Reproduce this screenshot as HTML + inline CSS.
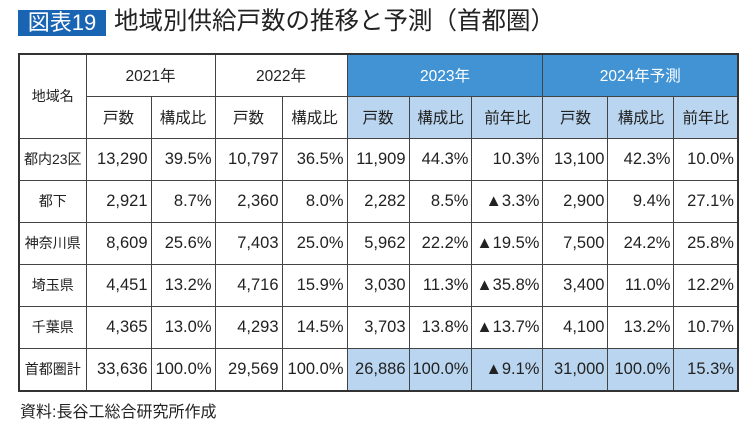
<!DOCTYPE html>
<html><head><meta charset="utf-8"><style>
body{margin:0;width:754px;height:427px;background:#fff;position:relative;overflow:hidden;font-family:"Liberation Sans","Noto Sans CJK JP",sans-serif;color:#222}
.tb{position:absolute;left:18px;top:10px;width:88px;height:26px;background:#1a64b4;color:#fff;font-size:22px;line-height:26px;text-align:center}
.tt{position:absolute;left:114px;top:7px;font-size:24.5px;line-height:30px;color:#222}
table{position:absolute;left:18px;top:53px;border-collapse:collapse;border:2px solid #333;table-layout:fixed}
td{border:1px solid #444;padding:0 3px;font-size:16.5px;text-align:right;white-space:nowrap;overflow:hidden}
td.c{text-align:center;font-size:15.5px}
.d{background:#4193d3;color:#fff}
.l{background:#b9d5ef}
.h1{height:42px}.h2{height:42px}
tr.r td{height:41px}
.nm{font-size:14px;text-align:center;padding:0}
td.nm{font-size:14px}
.f{position:absolute;left:20px;top:398px;font-size:16px}
</style></head><body>
<div class="tb">図表19</div>
<div class="tt">地域別供給戸数の推移と予測（首都圏）</div>
<table>
<colgroup><col style="width:67px"><col style="width:65px"><col style="width:64px"><col style="width:67px"><col style="width:65px"><col style="width:62px"><col style="width:62px"><col style="width:71px"><col style="width:65px"><col style="width:66px"><col style="width:64px"></colgroup>
<tr class="h1"><td class="c nm" rowspan="2" style="font-size:14px">地域名</td><td class="c" colspan="2">2021年</td><td class="c" colspan="2">2022年</td><td class="c d" colspan="3">2023年</td><td class="c d" colspan="3">2024年予測</td></tr>
<tr class="h2"><td class="c">戸数</td><td class="c">構成比</td><td class="c">戸数</td><td class="c">構成比</td><td class="c l">戸数</td><td class="c l">構成比</td><td class="c l">前年比</td><td class="c l">戸数</td><td class="c l">構成比</td><td class="c l">前年比</td></tr>
<tr class="r"><td class="nm">都内23区</td><td>13,290</td><td>39.5%</td><td>10,797</td><td>36.5%</td><td>11,909</td><td>44.3%</td><td>10.3%</td><td>13,100</td><td>42.3%</td><td>10.0%</td></tr>
<tr class="r"><td class="nm">都下</td><td>2,921</td><td>8.7%</td><td>2,360</td><td>8.0%</td><td>2,282</td><td>8.5%</td><td>▲3.3%</td><td>2,900</td><td>9.4%</td><td>27.1%</td></tr>
<tr class="r"><td class="nm">神奈川県</td><td>8,609</td><td>25.6%</td><td>7,403</td><td>25.0%</td><td>5,962</td><td>22.2%</td><td>▲19.5%</td><td>7,500</td><td>24.2%</td><td>25.8%</td></tr>
<tr class="r"><td class="nm">埼玉県</td><td>4,451</td><td>13.2%</td><td>4,716</td><td>15.9%</td><td>3,030</td><td>11.3%</td><td>▲35.8%</td><td>3,400</td><td>11.0%</td><td>12.2%</td></tr>
<tr class="r"><td class="nm">千葉県</td><td>4,365</td><td>13.0%</td><td>4,293</td><td>14.5%</td><td>3,703</td><td>13.8%</td><td>▲13.7%</td><td>4,100</td><td>13.2%</td><td>10.7%</td></tr>
<tr class="r"><td class="nm">首都圏計</td><td>33,636</td><td>100.0%</td><td>29,569</td><td>100.0%</td><td class="l">26,886</td><td class="l">100.0%</td><td class="l">▲9.1%</td><td class="l">31,000</td><td class="l">100.0%</td><td class="l">15.3%</td></tr>
</table>
<div class="f">資料:長谷工総合研究所作成</div>
</body></html>
